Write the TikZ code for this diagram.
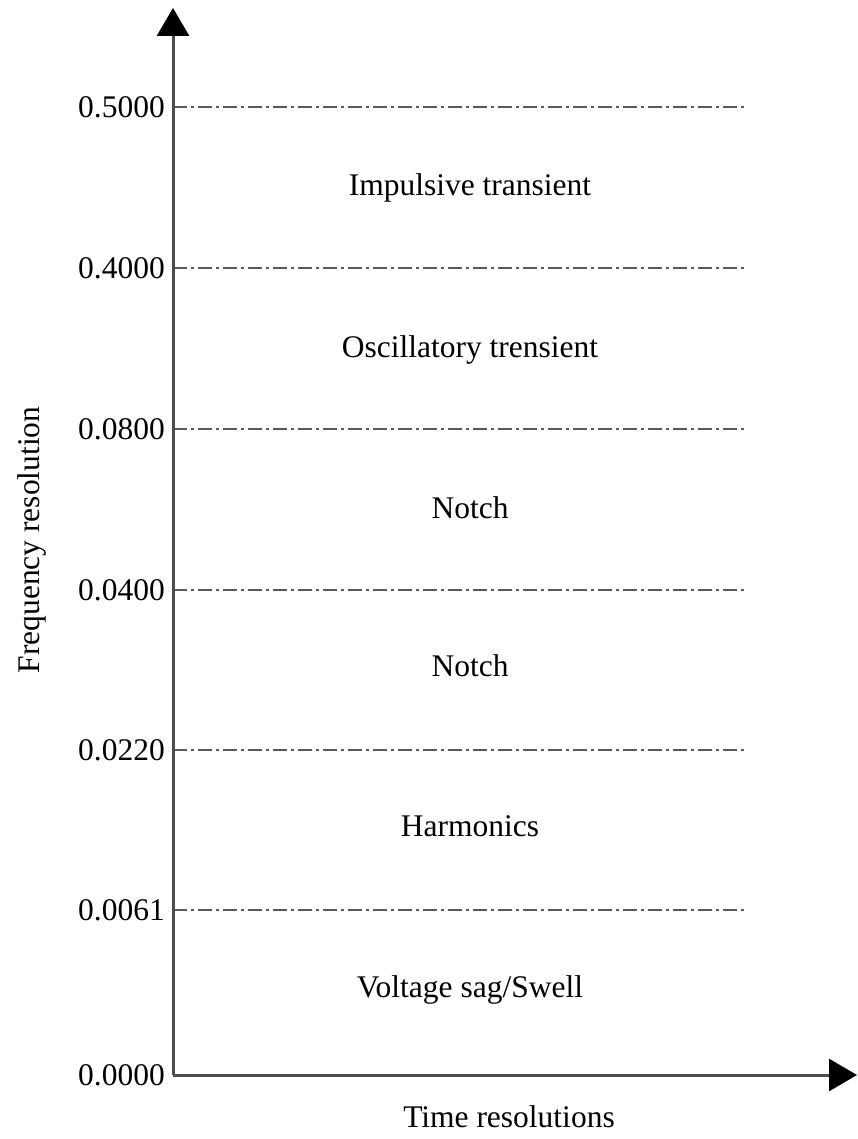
\documentclass[tikz,border=0pt]{standalone}
\usepackage{fontspec}
\setmainfont{Liberation Serif}
\usetikzlibrary{positioning,arrows.meta}

\begin{document}
\begin{tikzpicture}[x=1pt, y=-1pt, font=\fontsize{31.5}{38}\selectfont,
  axis/.style={line width=3pt, draw=black!70, -{Triangle[width=32pt,length=28pt,fill=black,color=black]}},
  level/.style={line width=2pt, draw=black!65, dash pattern=on 14pt off 4pt on 3pt off 4pt},
  tick/.style={anchor=east, inner sep=0pt},
  region/.style={inner sep=0pt}]
		\useasboundingbox (0,0) rectangle (857,1139);
		\coordinate (o) at (173,1075);
		\coordinate (ytop) at (173,8);
		\coordinate (xend) at (857,1075);
		\draw (165,1075) node[tick](t0){0.0000};
		\draw (165,910) node[tick](t1){0.0061};
		\draw (165,750) node[tick](t2){0.0220};
		\draw (165,590) node[tick](t3){0.0400};
		\draw (165,429) node[tick](t4){0.0800};
		\draw (165,268) node[tick](t5){0.4000};
		\draw (165,107) node[tick](t6){0.5000};
		\coordinate (e1) at (745,910);
		\coordinate (e2) at (745,750);
		\coordinate (e3) at (745,590);
		\coordinate (e4) at (745,429);
		\coordinate (e5) at (745,268);
		\coordinate (e6) at (745,107);
		\draw[level] (t1.east -| o) -- (e1);
		\draw[level] (t2.east -| o) -- (e2);
		\draw[level] (t3.east -| o) -- (e3);
		\draw[level] (t4.east -| o) -- (e4);
		\draw[level] (t5.east -| o) -- (e5);
		\draw[level] (t6.east -| o) -- (e6);
		\draw (470,188) node[region](r6){Impulsive transient};
		\draw (470,350) node[region](r5){Oscillatory trensient};
		\draw (470,508) node[region](r4){Notch};
		\draw (470,666) node[region](r3){Notch};
		\draw (470,826) node[region](r2){Harmonics};
		\draw (470,990) node[region](r1){Voltage sag/Swell};
		\draw (509,1117) node[region](xlab){Time resolutions};
		\draw (32,540) node[region, rotate=90](ylab){Frequency resolution};
		\draw[axis] (o) -- (ytop);
		\draw[axis] (o) -- (xend);
\end{tikzpicture}
\end{document}
